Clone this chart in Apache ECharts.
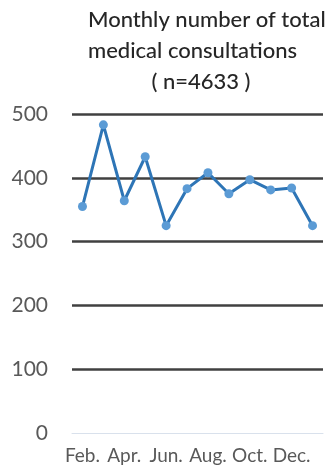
<!DOCTYPE html>
<html>
<head>
<meta charset="utf-8">
<style>
  html, body { margin: 0; padding: 0; background: #fff; }
  #chart { width: 332px; height: 470px; }
</style>
<script src="https://cdn.jsdelivr.net/npm/echarts@6/dist/echarts.min.js"></script>
</head>
<body>
<div id="chart"></div>
<script>
// Months in reporting order (starts in February)
const months = ['Feb.', 'Mar.', 'Apr.', 'May', 'Jun.', 'Jul.', 'Aug.', 'Sep.', 'Oct.', 'Nov.', 'Dec.', 'Jan.'];
// Consultations per month
const consultations = [355, 483, 364, 433, 325, 383, 408, 375, 397, 381, 384, 325];
// Title lines
const titleLines = ['Monthly number of total', 'medical consultations', '( n=4633 )'];

const FONT = 'Lato';
const chart = echarts.init(document.getElementById('chart'), null, { renderer: 'canvas' });

chart.setOption({
  animation: false,
  backgroundColor: '#ffffff',
  title: [
    { text: titleLines[0], left: 83, top: 4 },
    { text: titleLines[1], left: 83, top: 35 },
    { text: titleLines[2], left: 196, textAlign: 'center', top: 66 }
  ].map(t => Object.assign(t, {
    textStyle: { fontFamily: FONT, fontSize: 22, fontWeight: 500, color: '#262626' }
  })),
  grid: { left: 72, right: 9, top: 114, bottom: 37 },
  xAxis: {
    type: 'category',
    data: months,
    boundaryGap: true,
    z: 5,
    axisLine: { show: true, lineStyle: { color: '#d9e1ec', width: 1 } },
    axisTick: { show: false },
    axisLabel: {
      interval: 1,
      margin: 13,
      fontFamily: FONT,
      fontSize: 19,
      color: '#595959'
    }
  },
  yAxis: {
    type: 'value',
    min: 0,
    max: 500,
    interval: 100,
    axisLine: { show: false },
    axisTick: { show: false },
    axisLabel: {
      margin: 24,
      fontFamily: FONT,
      fontSize: 21,
      color: '#595959'
    },
    splitLine: {
      show: true,
      lineStyle: {
        color: ['transparent', '#404040', '#404040', '#404040', '#404040', '#404040'],
        width: 2.5
      }
    }
  },
  series: [{
    type: 'line',
    data: consultations,
    symbol: 'circle',
    symbolSize: 9,
    lineStyle: { color: '#2E75B6', width: 3 },
    itemStyle: { color: '#5B9BD5' },
    z: 10
  }]
});
</script>
</body>
</html>
